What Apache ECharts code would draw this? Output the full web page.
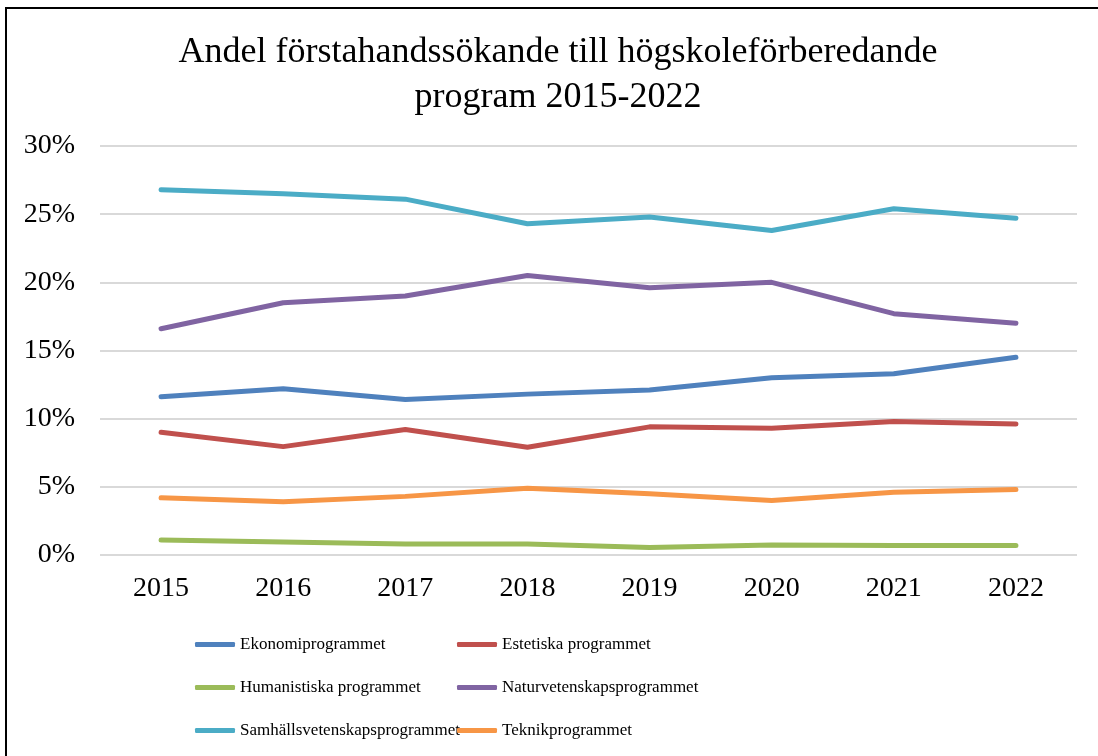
<!DOCTYPE html>
<html>
<head>
<meta charset="utf-8">
<script src="https://cdn.jsdelivr.net/npm/echarts@6/dist/echarts.min.js"></script>
<style>
  html, body { margin: 0; padding: 0; background: #fff; }
  #chart { width: 1098px; height: 756px; }
</style>
</head>
<body>
<div id="chart"></div>
<script>
// 年份
const years = ['2015', '2016', '2017', '2018', '2019', '2020', '2021', '2022']

// 各程序的份额（%）
const ekonomi = [11.6, 12.2, 11.4, 11.8, 12.1, 13.0, 13.3, 14.5]
const estetiska = [9.0, 7.95, 9.2, 7.9, 9.4, 9.3, 9.8, 9.6]
const humanistiska = [1.1, 0.95, 0.8, 0.8, 0.55, 0.73, 0.7, 0.7]
const naturvetenskap = [16.6, 18.5, 19.0, 20.5, 19.6, 20.0, 17.7, 17.0]
const samhallsvetenskap = [26.8, 26.5, 26.1, 24.3, 24.8, 23.8, 25.4, 24.7]
const teknik = [4.2, 3.9, 4.3, 4.9, 4.5, 4.0, 4.6, 4.8]

const yTicks = [0, 5, 10, 15, 20, 25, 30]

const seriesDefs = [
    { name: 'Ekonomiprogrammet', data: ekonomi, color: '#4F81BD' },
    { name: 'Estetiska programmet', data: estetiska, color: '#C0504D' },
    { name: 'Humanistiska programmet', data: humanistiska, color: '#9BBB59' },
    { name: 'Naturvetenskapsprogrammet', data: naturvetenskap, color: '#8064A2' },
    { name: 'Samhällsvetenskapsprogrammet', data: samhallsvetenskap, color: '#4BACC6' },
    { name: 'Teknikprogrammet', data: teknik, color: '#F79646' }
]

const serif = '"Liberation Serif", "DejaVu Serif", serif'

// 图例分两列，手动定位
function legendCol(names, left) {
    return {
        orient: 'vertical',
        left: left,
        top: 631,
        itemGap: 26,
        itemWidth: 40,
        itemHeight: 5,
        icon: 'roundRect',
        textStyle: { fontFamily: serif, fontSize: 17, color: '#000' },
        data: names
    }
}

let option = {
    animation: false,
    backgroundColor: '#fff',
    title: {
        text: 'Andel förstahandssökande till högskoleförberedande\nprogram 2015-2022',
        left: 553,
        top: 25,
        textAlign: 'center',
        textStyle: {
            fontFamily: serif,
            fontWeight: 'normal',
            fontSize: 36,
            lineHeight: 45,
            color: '#000'
        }
    },
    graphic: [{
        type: 'rect',
        shape: { x: 6, y: 8, width: 1200, height: 800 },
        style: { fill: 'none', stroke: '#000', lineWidth: 2 },
        silent: true
    }],
    legend: [
        legendCol(['Ekonomiprogrammet', 'Humanistiska programmet', 'Samhällsvetenskapsprogrammet'], 190),
        legendCol(['Estetiska programmet', 'Naturvetenskapsprogrammet', 'Teknikprogrammet'], 452)
    ],
    grid: {
        left: 100,
        right: 21,
        top: 146,
        height: 409
    },
    xAxis: {
        type: 'category',
        data: years,
        boundaryGap: true,
        axisLine: { show: false },
        axisTick: { show: false },
        axisLabel: {
            fontFamily: serif,
            fontSize: 28,
            color: '#000',
            margin: 20
        }
    },
    yAxis: {
        type: 'value',
        min: yTicks[0],
        max: yTicks[yTicks.length - 1],
        interval: 5,
        axisLine: { show: false },
        axisTick: { show: false },
        axisLabel: {
            formatter: '{value}%',
            fontFamily: serif,
            fontSize: 28,
            color: '#000',
            margin: 25
        },
        splitLine: { lineStyle: { color: '#d9d9d9', width: 2 } }
    },
    series: seriesDefs.map(s => ({
        name: s.name,
        type: 'line',
        data: s.data,
        symbol: 'none',
        color: s.color,
        lineStyle: { width: 5, color: s.color, cap: 'round', join: 'round' }
    }))
}

let chartDom = echarts.init(document.querySelector('#chart'))
chartDom.setOption(option)
</script>
</body>
</html>
